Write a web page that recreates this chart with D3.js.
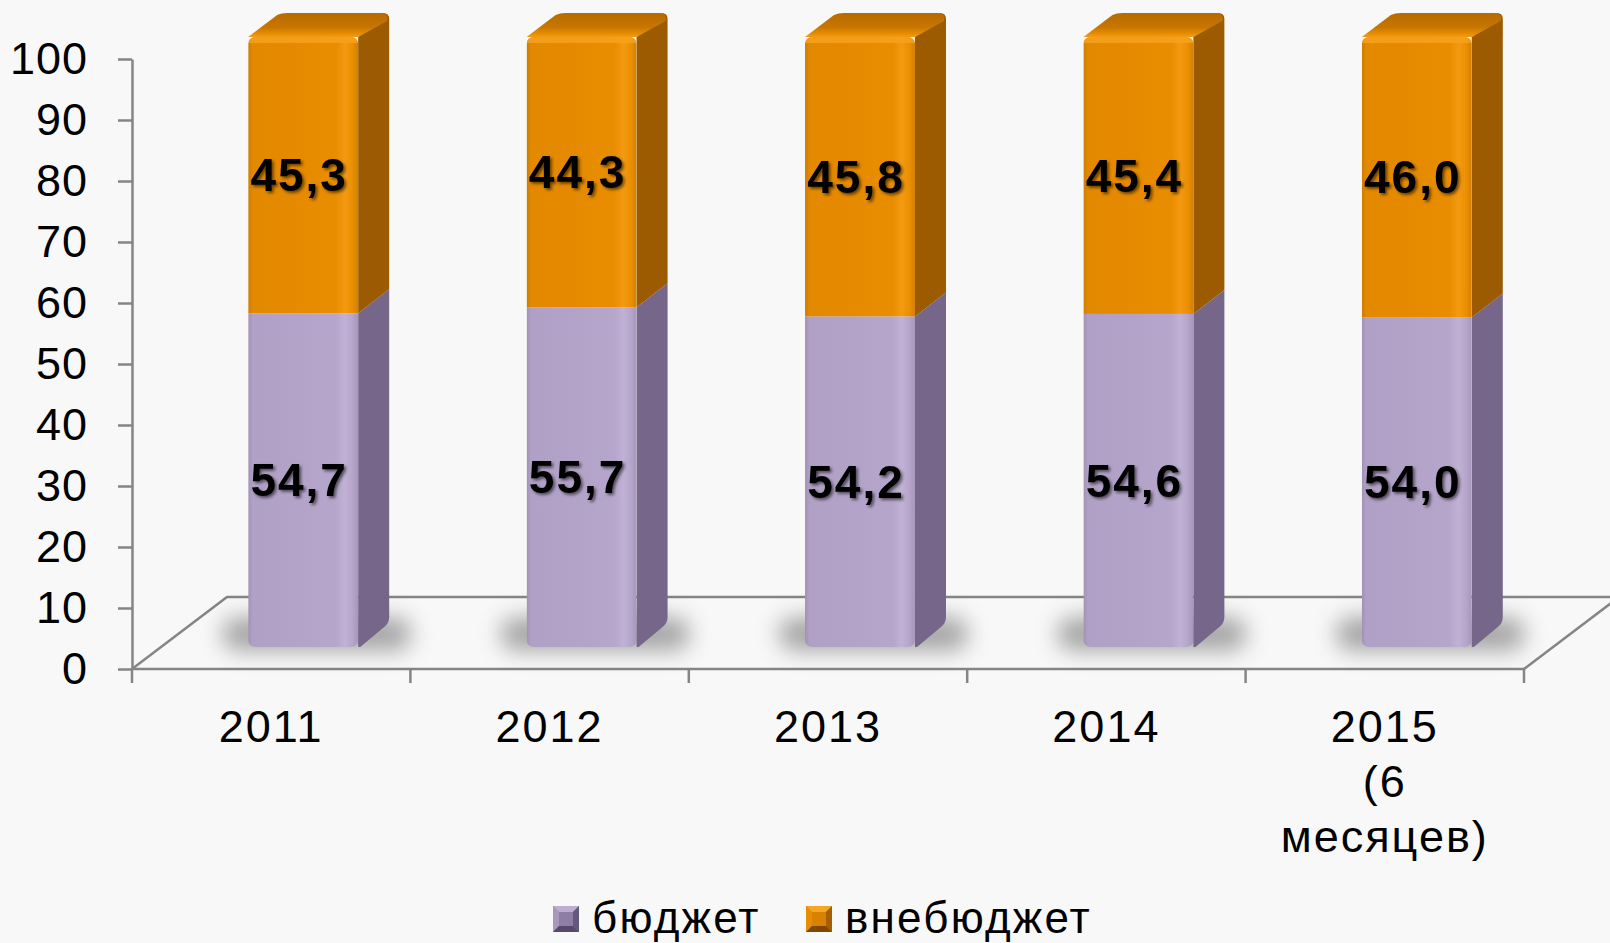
<!DOCTYPE html>
<html>
<head>
<meta charset="utf-8">
<script src="https://cdn.jsdelivr.net/npm/d3@7"></script>
<style>
  html, body { margin: 0; padding: 0; background: #f8f8f8; }
  svg { display: block; }
  text { font-family: "Liberation Sans", Arial, sans-serif; fill: #000; }
</style>
</head>
<body>
<svg id="chart" width="1610" height="943"></svg>
<script>
// Доля финансирования, %
const categories = ["2011", "2012", "2013", "2014", "2015 (6 месяцев)"];
const categoryLines = [["2011"], ["2012"], ["2013"], ["2014"], ["2015", "(6", "месяцев)"]];
const budget = [54.7, 55.7, 54.2, 54.6, 54.0];
const offBudget = [45.3, 44.3, 45.8, 45.4, 46.0];
const seriesNames = ["бюджет", "внебюджет"];
const yTicks = [0, 10, 20, 30, 40, 50, 60, 70, 80, 90, 100];

const svg = d3.select("#chart");
const defs = svg.append("defs");

// plot geometry
const x = d3.scaleBand().domain(categories).range([132, 1524]).padding(0);
const y = d3.scaleLinear().domain([0, 100]).range([669, 59]);
const floorDepth = { dx: 95, dy: -72 };       // receding floor edge
const barShift = { dx: 32, dy: -22 };         // front face of bars sits inside the floor
const barDepth = { dx: 31, dy: -24 };         // thickness of each bar
const barW = x.bandwidth() * 0.395;
const fmt = v => d3.format(".1f")(v).replace(".", ",");

// gradients for the front faces
function frontGradient(id, stops) {
  const g = defs.append("linearGradient").attr("id", id)
    .attr("x1", "0").attr("x2", "1").attr("y1", "0").attr("y2", "0");
  stops.forEach(([o, c]) => g.append("stop").attr("offset", o).attr("stop-color", c));
}
frontGradient("gOrange", [[0, "#cf7c00"], [0.04, "#e38900"], [0.5, "#e68a00"], [0.8, "#e98d00"],
  [0.88, "#f49a12"], [0.95, "#ea8f00"], [1, "#d47f00"]]);
frontGradient("gPurple", [[0, "#a192b5"], [0.04, "#b0a0c5"], [0.5, "#b3a3c8"], [0.8, "#b6a6cb"],
  [0.88, "#c0b1d5"], [0.95, "#b5a5ca"], [1, "#a696ba"]]);

const topG = defs.append("linearGradient").attr("id", "gTop")
  .attr("x1", "0").attr("x2", "0").attr("y1", "0").attr("y2", "1");
[[0, "#b66a00"], [0.6, "#c87600"], [0.85, "#e48c00"], [1, "#f39b15"]]
  .forEach(([o, c]) => topG.append("stop").attr("offset", o).attr("stop-color", c));

// soft shadow on the floor
defs.append("filter").attr("id", "fShadow").attr("x", "-50%").attr("y", "-100%")
  .attr("width", "200%").attr("height", "300%")
  .append("feGaussianBlur").attr("stdDeviation", 11);

// drop shadow under the value labels
const ts = defs.append("filter").attr("id", "fText").attr("x", "-20%").attr("y", "-30%")
  .attr("width", "140%").attr("height", "160%");
ts.append("feDropShadow").attr("dx", 2).attr("dy", 2).attr("stdDeviation", 1.6)
  .attr("flood-color", "#000").attr("flood-opacity", 0.55);

const axisColor = "#858585";

// floor outline (3D base)
const floor = svg.append("g").attr("fill", "none").attr("stroke", axisColor).attr("stroke-width", 2.5);
const x0 = x.range()[0], x1 = x.range()[1], y0 = y(0);
floor.append("path").attr("d",
  `M${x0},${y0} L${x0 + floorDepth.dx},${y0 + floorDepth.dy} L${x1 + floorDepth.dx},${y0 + floorDepth.dy}`);
floor.append("path").attr("d",
  `M${x1},${y0} L${x1 + floorDepth.dx},${y0 + floorDepth.dy}`);

// y axis
const yAxis = svg.append("g").attr("transform", `translate(${x0},0)`)
  .call(d3.axisLeft(y).tickValues(yTicks).tickSize(14).tickPadding(30).tickSizeOuter(0));
yAxis.select(".domain").attr("stroke", axisColor).attr("stroke-width", 2.5);
yAxis.selectAll(".tick line").attr("stroke", axisColor).attr("stroke-width", 2.5);
yAxis.selectAll(".tick text").attr("font-size", 45).attr("letter-spacing", 1)
  .attr("font-family", "'Liberation Sans', Arial, sans-serif").attr("fill", "#000");

// x axis: baseline with ticks on category boundaries
const xAxis = svg.append("g");
xAxis.append("line").attr("x1", x0).attr("x2", x1).attr("y1", y0).attr("y2", y0)
  .attr("stroke", axisColor).attr("stroke-width", 2.5);
const bounds = categories.map(c => x(c)).concat([x1]);
xAxis.selectAll("line.tk").data(bounds).join("line").attr("class", "tk")
  .attr("x1", d => d).attr("x2", d => d).attr("y1", y0).attr("y2", y0 + 14)
  .attr("stroke", axisColor).attr("stroke-width", 2.5);
xAxis.selectAll("text.cat").data(categories).join("text").attr("class", "cat")
  .attr("text-anchor", "middle").attr("font-size", 45).attr("letter-spacing", 2)
  .attr("x", d => x(d) + x.bandwidth() / 2)
  .attr("y", 742)
  .each(function (d, i) {
    d3.select(this).selectAll("tspan").data(categoryLines[i]).join("tspan")
      .attr("x", x(d) + x.bandwidth() / 2)
      .attr("dy", (t, j) => j === 0 ? 0 : 55)
      .text(t => t);
  });

// bars
const rows = categories.map((c, i) => ({ c, i, b: budget[i], o: offBudget[i] }));
const barLeft = d => x(d.c) + x.bandwidth() / 2 - barW / 2 + barShift.dx;
const ys = v => y(v) + barShift.dy;

// floor shadows
svg.append("g").selectAll("rect").data(rows).join("rect")
  .attr("x", d => barLeft(d) - 26)
  .attr("y", ys(0) - 30)
  .attr("width", barW + barDepth.dx + 48)
  .attr("height", 34)
  .attr("rx", 16)
  .attr("fill", "#555").attr("opacity", 0.5)
  .attr("filter", "url(#fShadow)");

const bars = svg.append("g").selectAll("g.bar").data(rows).join("g").attr("class", "bar");

bars.each(function (d) {
  const g = d3.select(this);
  const L = barLeft(d), R = L + barW;
  const yb = ys(0), ym = ys(d.b), yt = ys(d.b + d.o);
  const dx = barDepth.dx, dy = barDepth.dy;

  // side faces
  g.append("path").attr("fill", "#75668a")
    .attr("d", `M${R},${ym} L${R + dx},${ym + dy} L${R + dx},${yb + dy - 6} Q${R + dx},${yb + dy} ${R + dx - 5},${yb + dy + 4} L${R + 2},${yb} L${R},${yb} Z`);
  g.append("path").attr("fill", "#9c5b00")
    .attr("d", `M${R},${yt} L${R + dx - 6},${yt + dy} Q${R + dx},${yt + dy} ${R + dx},${yt + dy + 6} L${R + dx},${ym + dy} L${R},${ym} Z`);

  // top face
  g.append("path").attr("fill", "url(#gTop)")
    .attr("d", `M${L},${yt} L${L + dx - 2},${yt + dy + 2} Q${L + dx + 2},${yt + dy} ${L + dx + 8},${yt + dy} L${R + dx - 8},${yt + dy} Q${R + dx},${yt + dy} ${R + dx - 2},${yt + dy + 8} L${R},${yt} Z`);

  // front faces, clipped to a rounded outline
  const clipId = "clip" + d.i;
  defs.append("clipPath").attr("id", clipId).append("rect")
    .attr("x", L).attr("y", yt).attr("width", barW).attr("height", yb - yt).attr("rx", 7);
  const front = g.append("g").attr("clip-path", `url(#${clipId})`);
  front.append("rect").attr("x", L).attr("y", ym).attr("width", barW).attr("height", yb - ym)
    .attr("fill", "url(#gPurple)");
  front.append("rect").attr("x", L).attr("y", yt).attr("width", barW).attr("height", ym - yt)
    .attr("fill", "url(#gOrange)");
  // bevel highlight along the top front edge
  front.append("rect").attr("x", L).attr("y", yt).attr("width", barW).attr("height", 6)
    .attr("fill", "#f7a21e").attr("opacity", 0.8);

  // value labels
  const cx = L + barW / 2;
  [[d.o, (yt + ym) / 2], [d.b, (ym + yb) / 2]].forEach(([v, cy]) => {
    g.append("text").attr("x", cx - 4).attr("y", cy).attr("dy", "0.35em")
      .attr("text-anchor", "middle").attr("font-size", 46).attr("font-weight", "bold")
      .attr("letter-spacing", 2)
      .attr("filter", "url(#fText)").text(fmt(v));
  });
});

// legend with bevelled markers
const legendItems = [
  { name: seriesNames[0], x: 553, c: ["#bcaed0", "#a898bd", "#665878", "#56496a", "#8d7ea3"] },
  { name: seriesNames[1], x: 806, c: ["#f7a624", "#e48d05", "#a45f00", "#7f4700", "#d98200"] }
];
const legend = svg.append("g");
const ms = 26, ly = 906;
legendItems.forEach(it => {
  const g = legend.append("g").attr("transform", `translate(${it.x},${ly})`);
  const k = 6;
  g.append("rect").attr("width", ms).attr("height", ms).attr("fill", it.c[4]);
  g.append("path").attr("fill", it.c[0]).attr("d", `M0,0 L${ms},0 L${ms - k},${k} L${k},${k} Z`);
  g.append("path").attr("fill", it.c[1]).attr("d", `M0,0 L${k},${k} L${k},${ms - k} L0,${ms} Z`);
  g.append("path").attr("fill", it.c[2]).attr("d", `M${ms},0 L${ms},${ms} L${ms - k},${ms - k} L${ms - k},${k} Z`);
  g.append("path").attr("fill", it.c[3]).attr("d", `M0,${ms} L${k},${ms - k} L${ms - k},${ms - k} L${ms},${ms} Z`);
  g.append("text").attr("x", ms + 13).attr("y", 27).attr("font-size", 44).attr("letter-spacing", 2.2)
    .text(it.name);
});
</script>
</body>
</html>
